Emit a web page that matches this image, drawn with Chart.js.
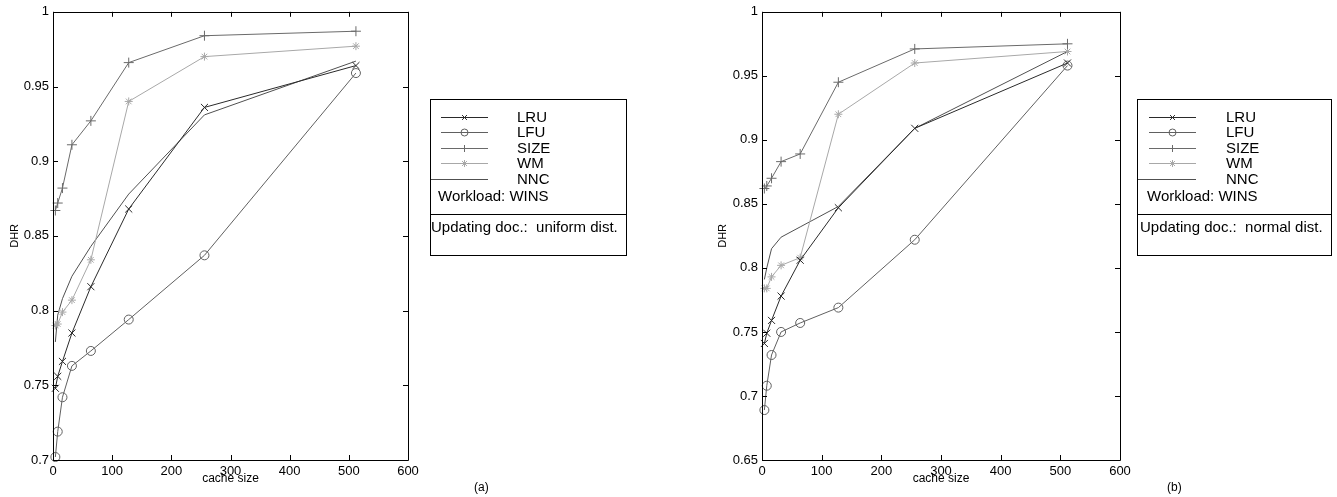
<!DOCTYPE html>
<html>
<head>
<meta charset="utf-8">
<script src="https://cdn.jsdelivr.net/npm/chart.js@4/dist/chart.umd.min.js"></script>
<style>
  body { margin: 0; background: #fff; }
  #wrap { position: relative; width: 1337px; height: 497px; }
  canvas { position: absolute; top: 0; }
  #chartA { left: 0; }
  #chartB { left: 668px; }
</style>
</head>
<body>
<div id="wrap">
  <canvas id="chartA" width="668" height="497"></canvas>
  <canvas id="chartB" width="669" height="497"></canvas>
</div>
<script>
// cache sizes used on the x axis
const cacheSizes = [4, 8, 16, 32, 64, 128, 256, 512];

// (a) updating doc.: uniform dist.
const lruA  = [0.748, 0.756, 0.766, 0.785, 0.816, 0.868, 0.936, 0.964];
const lfuA  = [0.702, 0.719, 0.742, 0.763, 0.773, 0.794, 0.837, 0.959];
const sizeA = [0.867, 0.872, 0.882, 0.911, 0.927, 0.966, 0.984, 0.987];
const wmA   = [0.790, 0.791, 0.799, 0.807, 0.834, 0.940, 0.970, 0.977];
const nncA  = [0.779, 0.797, 0.808, 0.823, 0.843, 0.878, 0.931, 0.967];

// (b) updating doc.: normal dist.
const lruB  = [0.741, 0.749, 0.759, 0.778, 0.806, 0.847, 0.909, 0.960];
const lfuB  = [0.689, 0.708, 0.732, 0.750, 0.757, 0.769, 0.822, 0.958];
const sizeB = [0.862, 0.864, 0.870, 0.883, 0.889, 0.945, 0.971, 0.975];
const wmB   = [0.784, 0.784, 0.793, 0.802, 0.808, 0.920, 0.960, 0.969];
const nncB  = [0.791, 0.800, 0.815, 0.824, 0.832, 0.848, 0.909, 0.969];

const seriesNames = ['LRU', 'LFU', 'SIZE', 'WM', 'NNC'];
const xTicks = [0, 100, 200, 300, 400, 500, 600];
const yTicksA = [0.7, 0.75, 0.8, 0.85, 0.9, 0.95, 1];
const yTicksB = [0.65, 0.7, 0.75, 0.8, 0.85, 0.9, 0.95, 1];

const workloadText = 'Workload: WINS';
const noteA = 'Updating doc.:  uniform dist.';
const noteB = 'Updating doc.:  normal dist.';
const panelA = '(a)';
const panelB = '(b)';

const styles = [
  { color: '#2a2a2a', point: 'crossRot', radius: 5 },
  { color: '#606060', point: 'circle', radius: 4.5 },
  { color: '#6a6a6a', point: 'cross', radius: 5 },
  { color: '#a8a8a8', point: 'star', radius: 4 },
  { color: '#505050', point: false, radius: 0 }
];

const FONT = '"Liberation Sans", Arial, sans-serif';

const toPoints = (vals) => vals.map((v, i) => ({ x: cacheSizes[i], y: v }));

const fmt = (v) => String(+Number(v).toFixed(2));

// box frame with inward tick marks on all four sides (matlab look)
const framePlugin = {
  id: 'frame',
  afterDraw(chart) {
    const { ctx, chartArea: a, scales } = chart;
    ctx.save();
    ctx.strokeStyle = '#000';
    ctx.lineWidth = 1;
    ctx.beginPath();
    ctx.rect(Math.round(a.left) + 0.5, Math.round(a.top) + 0.5,
      Math.round(a.right - a.left), Math.round(a.bottom - a.top));
    ctx.stroke();
    const len = 5;
    ctx.beginPath();
    scales.x.ticks.forEach(t => {
      const px = Math.round(scales.x.getPixelForValue(t.value)) + 0.5;
      ctx.moveTo(px, a.bottom); ctx.lineTo(px, a.bottom - len);
      ctx.moveTo(px, a.top); ctx.lineTo(px, a.top + len);
    });
    scales.y.ticks.forEach(t => {
      const py = Math.round(scales.y.getPixelForValue(t.value)) + 0.5;
      ctx.moveTo(a.left, py); ctx.lineTo(a.left + len, py);
      ctx.moveTo(a.right, py); ctx.lineTo(a.right - len, py);
    });
    ctx.stroke();
    ctx.restore();
  }
};

function drawMarker(ctx, style, r, x, y) {
  if (!style) return;
  ctx.save();
  ctx.beginPath();
  if (style === 'circle') {
    ctx.arc(x, y, r, 0, Math.PI * 2);
  } else if (style === 'cross') {
    ctx.moveTo(x - r, y); ctx.lineTo(x + r, y);
    ctx.moveTo(x, y - r); ctx.lineTo(x, y + r);
  } else if (style === 'crossRot') {
    const d = r * 0.7;
    ctx.moveTo(x - d, y - d); ctx.lineTo(x + d, y + d);
    ctx.moveTo(x - d, y + d); ctx.lineTo(x + d, y - d);
  } else if (style === 'star') {
    const d = r * 0.7;
    ctx.moveTo(x - r, y); ctx.lineTo(x + r, y);
    ctx.moveTo(x, y - r); ctx.lineTo(x, y + r);
    ctx.moveTo(x - d, y - d); ctx.lineTo(x + d, y + d);
    ctx.moveTo(x - d, y + d); ctx.lineTo(x + d, y - d);
  }
  ctx.stroke();
  ctx.restore();
}

// legend box outside the plot, with the note below a divider
const boxLegendPlugin = {
  id: 'boxLegend',
  afterDraw(chart, args, o) {
    const { ctx } = chart;
    const L = o.left, R = o.right, T = 99, B = 255, D = 214;
    ctx.save();
    ctx.strokeStyle = '#000';
    ctx.lineWidth = 1;
    ctx.strokeRect(L + 0.5, T + 0.5, R - L, B - T);
    ctx.beginPath();
    ctx.moveTo(L, D + 0.5); ctx.lineTo(R, D + 0.5);
    ctx.stroke();

    const rows = [117, 132, 148, 163, 179];
    ctx.font = '15px ' + FONT;
    ctx.fillStyle = '#000';
    ctx.textBaseline = 'middle';
    chart.data.datasets.forEach((ds, i) => {
      const y = rows[i] + 0.5;
      const st = styles[i];
      ctx.strokeStyle = st.color;
      ctx.lineWidth = 1;
      ctx.beginPath();
      ctx.moveTo(st.point ? L + o.sampleStart : L + 1, y);
      ctx.lineTo(L + o.sampleEnd, y);
      ctx.stroke();
      drawMarker(ctx, st.point, 3.5, L + (o.sampleStart + o.sampleEnd) / 2, y);
      ctx.fillText(ds.label, L + o.textX, rows[i] + 1);
    });
    ctx.fillText(workloadText, L + o.workX, 197);
    ctx.fillText(o.note, L + o.noteX, 228);

    ctx.font = '12px ' + FONT;
    ctx.fillText(o.panel, o.panelX, 488);
    ctx.restore();
  }
};

function makePanel(id, series, yTicks, pad, yWidth, legend) {
  const datasets = series.map((vals, i) => ({
    label: seriesNames[i],
    data: toPoints(vals),
    borderColor: styles[i].color,
    backgroundColor: 'rgba(0,0,0,0)',
    borderWidth: 1,
    pointStyle: styles[i].point,
    pointRadius: styles[i].radius,
    pointBorderColor: styles[i].color,
    pointBorderWidth: 1,
    pointBackgroundColor: 'rgba(0,0,0,0)',
    tension: 0,
    clip: false
  }));

  return new Chart(document.getElementById(id), {
    type: 'line',
    data: { datasets },
    options: {
      responsive: false,
      animation: false,
      devicePixelRatio: 1,
      layout: { padding: pad },
      plugins: {
        legend: { display: false },
        tooltip: { enabled: false },
        boxLegend: legend
      },
      scales: {
        x: {
          type: 'linear',
          min: 0, max: 600,
          afterBuildTicks: (s) => { s.ticks = xTicks.map(v => ({ value: v })); },
          afterFit: (s) => { s.height = 37; },
          grid: { display: false, drawTicks: false },
          border: { display: false },
          ticks: { color: '#000', font: { family: FONT, size: 13 }, padding: 4, maxRotation: 0, autoSkip: false },
          title: { display: true, text: 'cache size', color: '#000', font: { family: FONT, size: 12 }, padding: { top: 0, bottom: 11 } }
        },
        y: {
          type: 'linear',
          min: yTicks[0], max: yTicks[yTicks.length - 1],
          afterBuildTicks: (s) => { s.ticks = yTicks.map(v => ({ value: v })); },
          afterFit: (s) => { s.width = yWidth; },
          grid: { display: false, drawTicks: false },
          border: { display: false },
          ticks: { color: '#000', font: { family: FONT, size: 13 }, padding: 4, callback: fmt, autoSkip: false },
          title: { display: true, text: 'DHR', color: '#000', font: { family: FONT, size: 11 }, padding: { top: 8, bottom: 0 } }
        }
      }
    },
    plugins: [framePlugin, boxLegendPlugin]
  });
}

makePanel('chartA', [lruA, lfuA, sizeA, wmA, nncA], yTicksA,
  { left: 0, top: 10, right: 260, bottom: 0 }, 53,
  { left: 430, right: 626, sampleStart: 11, sampleEnd: 58, textX: 87, workX: 8, noteX: 1,
    note: noteA, panel: panelA, panelX: 474 });

makePanel('chartB', [lruB, lfuB, sizeB, wmB, nncB], yTicksB,
  { left: 40, top: 10, right: 217, bottom: 0 }, 54,
  { left: 469, right: 663, sampleStart: 12, sampleEnd: 59, textX: 89, workX: 10, noteX: 3,
    note: noteB, panel: panelB, panelX: 499 });
</script>
</body>
</html>
